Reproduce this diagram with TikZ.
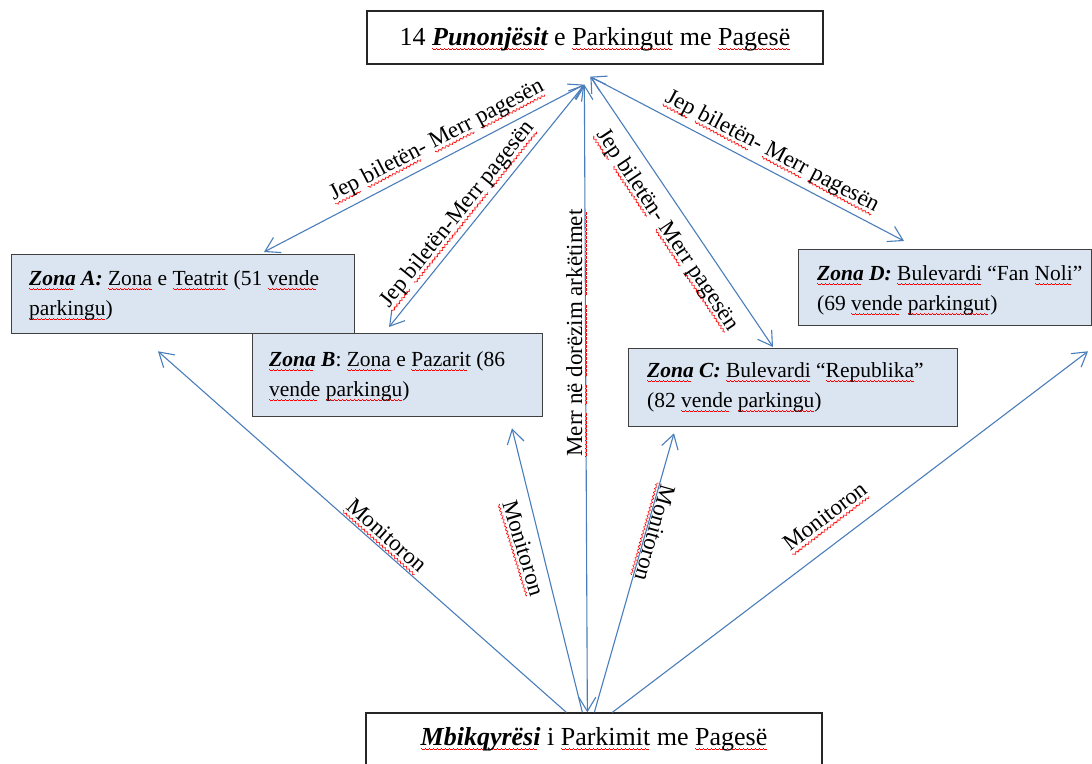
\documentclass[tikz,border=0pt]{standalone}
\usepackage{fontspec}
\setmainfont{Liberation Serif}
\usetikzlibrary{arrows.meta,calc}
\newsavebox\sqbox
\newcommand\squnit{\hbox{\rule[-3.6pt]{1pt}{0.9pt}\rule[-4.4pt]{1pt}{0.9pt}\rule[-5.2pt]{1pt}{0.9pt}\rule[-4.4pt]{1pt}{0.9pt}}}
\newcommand\spellsq[1]{\sbox\sqbox{#1}\leavevmode\rlap{\color{red}\leaders\squnit\hskip\wd\sqbox\relax}\usebox\sqbox}
\definecolor{arrowblue}{RGB}{74,126,187}
\definecolor{zonefill}{RGB}{219,229,241}
\newcommand\zonefont{\fontsize{21.5}{30}\selectfont}
\newcommand\ttlfont{\fontsize{26}{30}\selectfont}
\newcommand\lblfont{\fontsize{23}{28}\selectfont}
\tikzset{
  zonebox/.style={draw=black!75, line width=1.3pt, fill=zonefill, inner sep=0pt, anchor=north west},
  titlebox/.style={draw=black!85, line width=1.3pt, fill=white, inner sep=0pt, font=\ttlfont},
  ztext/.style={anchor=base west, align=left, inner sep=0pt, font=\zonefont},
  lbl/.style={anchor=base, inner sep=0pt, font=\lblfont},
  barb/.tip={Straight Barb[length=14pt,width=17pt]},
  link/.style={draw=arrowblue, line width=1.1pt, barb-barb},
  mon/.style={draw=arrowblue, line width=1.1pt, -barb},
}
\begin{document}
\begin{tikzpicture}[x=1pt,y=-1pt]
\useasboundingbox (0,0) rectangle (1092,763);
\clip (0,0) rectangle (1092,763);
\fill[white] (0,0) rectangle (1092,763);

% main boxes
\node[titlebox, minimum width=456, minimum height=53, text height=18, text depth=3] (top) at (595,37.5)
  {14 \textbf{\textit{\spellsq{Punonjësit}}} e \spellsq{Parkingut} me \spellsq{Pagesë}};
\node[titlebox, minimum width=456, minimum height=64, text height=12, text depth=12] (bot) at (594,745)
  {\textbf{\textit{\spellsq{Mbikqyrësi}}} i \spellsq{Parkimit} me \spellsq{Pagesë}};

% zone boxes
\node[zonebox, minimum width=343, minimum height=79] (zA) at (11,254) {};
\node[zonebox, minimum width=290, minimum height=83] (zB) at (252,333) {};
\node[zonebox, minimum width=329, minimum height=78] (zC) at (628,348) {};
\node[zonebox, minimum width=293, minimum height=76] (zD) at (798,249) {};

% (base anchor of a two-line node = baseline of the second line)
\node[ztext] (tA) at ($(zA.north west)+(18,61)$)
  {\textbf{\textit{\spellsq{Zona} A:}} \spellsq{Zona} e \spellsq{Teatrit} (51 \spellsq{vende}\\\spellsq{parkingu})};
\node[ztext] (tB) at ($(zB.north west)+(17,63)$)
  {\textbf{\textit{\spellsq{Zona} B}}: \spellsq{Zona} e \spellsq{Pazarit} (86\\\spellsq{vende} \spellsq{parkingu})};
\node[ztext] (tC) at ($(zC.north west)+(19,59)$)
  {\textbf{\textit{\spellsq{Zona} C:}} \spellsq{Bulevardi} “\spellsq{Republika}”\\(82 \spellsq{vende} \spellsq{parkingu})};
\node[ztext] (tD) at ($(zD.north west)+(19,61)$)
  {\textbf{\textit{\spellsq{Zona} D:}} \spellsq{Bulevardi} “Fan \spellsq{Noli}”\\(69 \spellsq{vende} \spellsq{parkingut})};

% connector end points
\coordinate (tL) at ($(top.south west)+(218,20)$);
\coordinate (tR) at ($(top.south west)+(224,12)$);
\coordinate (bA) at ($(bot.north west)+(201,0)$);
\coordinate (bB) at ($(bot.north west)+(217,0)$);
\coordinate (bV) at ($(bot.north west)+(222,0)$);
\coordinate (bC) at ($(bot.north west)+(229,0)$);
\coordinate (bD) at ($(bot.north west)+(247,0)$);
\coordinate (aT) at ($(zA.north west)+(253,-2)$);
\coordinate (aB) at ($(zA.south west)+(147,17)$);
\coordinate (bT) at ($(zB.north west)+(137,-6)$);
\coordinate (bZ) at ($(zB.south west)+(260,11)$);
\coordinate (cT) at ($(zC.north west)+(145,-1)$);
\coordinate (cB) at ($(zC.south west)+(46,6)$);
\coordinate (dT) at ($(zD.north west)+(106,-8)$);
\coordinate (dB) at ($(zD.south west)+(290,25)$);

% workers <-> zones
\draw[link] (aT) -- (tL);
\draw[link] (bT) -- (tL);
\draw[link] (bV) -- (tL);
\draw[link] (cT) -- (tR);
\draw[link] (dT) -- (tR);

% supervisor monitors zones
\draw[mon] (bA) -- (aB);
\draw[mon] (bB) -- (bZ);
\draw[mon] (bC) -- (cB);
\draw[mon] (bD) -- (dB);

% labels
\node[lbl, rotate=27.6] (lA) at (439.5,145.7) {\spellsq{Jep} \spellsq{biletën}- \spellsq{Merr} \spellsq{pagesën}};
\node[lbl, rotate=51.1] (lB) at (462.1,218.3) {\spellsq{Jep} \spellsq{biletën-Merr} \spellsq{pagesën}};
\node[lbl, rotate=-56.1] (lC) at (662.6,233) {\spellsq{Jep} \spellsq{biletën}- \spellsq{Merr} \spellsq{pagesën}};
\node[lbl, rotate=-27.8] (lD) at (769.5,156.7) {\spellsq{Jep} \spellsq{biletën}- \spellsq{Merr} \spellsq{pagesën}};
\node[lbl, rotate=90] (lV) at (582,333) {\spellsq{Merr} \spellsq{në} \spellsq{dorëzim} \spellsq{arkëtimet}};
\node[lbl, rotate=-41.6] (mA) at (382,540.7) {\spellsq{Monitoron}};
\node[lbl, rotate=-73] (mB) at (516.7,550.2) {\spellsq{Monitoron}};
\node[lbl, rotate=-105.7] (mC) at (647.7,530.9) {\spellsq{Monitoron}};
\node[lbl, rotate=37.4] (mD) at (829.6,522) {\spellsq{Monitoron}};
\end{tikzpicture}
\end{document}
